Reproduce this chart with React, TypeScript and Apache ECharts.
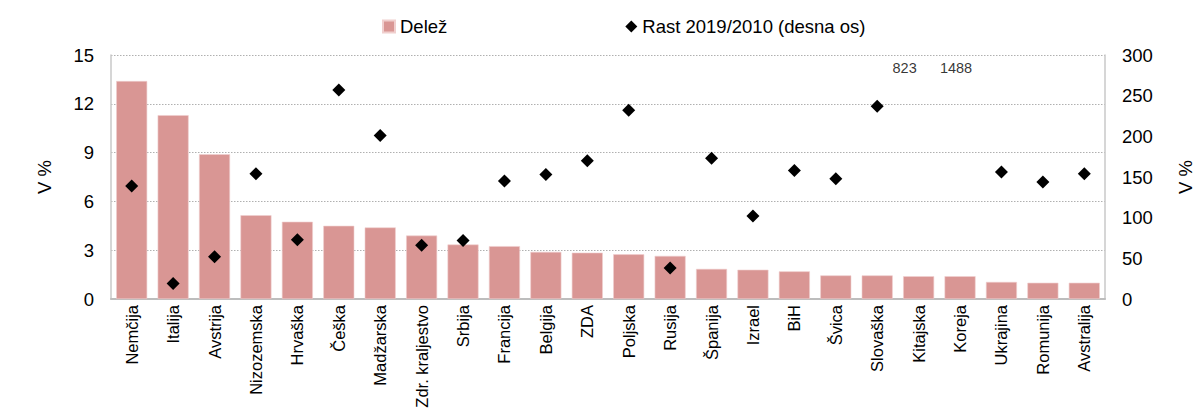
import React, { useEffect, useRef } from "react";
import * as echarts from "echarts";

const categories = [
  "Nemčija", "Italija", "Avstrija", "Nizozemska", "Hrvaška", "Češka", "Madžarska",
  "Zdr. kraljestvo", "Srbija", "Francija", "Belgija", "ZDA", "Poljska", "Rusija",
  "Španija", "Izrael", "BiH", "Švica", "Slovaška", "Kitajska", "Koreja", "Ukrajina",
  "Romunija", "Avstralija",
];
const delez = [
  13.4, 11.3, 8.9, 5.15, 4.75, 4.5, 4.4, 3.9, 3.35, 3.25, 2.9, 2.85, 2.75, 2.65,
  1.85, 1.8, 1.7, 1.45, 1.45, 1.4, 1.4, 1.05, 1.0, 1.0,
];
const rast = [
  139, 19, 52, 154, 73, 257, 201, 66, 72, 145, 153, 170, 232, 38,
  173, 102, 158, 148, 237, 823, 1488, 156, 144, 154,
];
const leftTicks = { min: 0, max: 15, interval: 3 };
const rightTicks = { min: 0, max: 300, interval: 50 };

const FONT = "'Liberation Sans', Arial, sans-serif";

export default function App() {
  const ref = useRef<HTMLDivElement>(null);
  useEffect(() => {
    if (!ref.current) return;
    const chart = echarts.init(ref.current, null, { renderer: "svg" });
    const capY = 284;
    const labelOffsets: Record<number, number> = { 19: -14, 20: -4 };
    const capData = rast.map((v, i) =>
      v > rightTicks.max
        ? {
            value: capY,
            label: {
              show: true,
              formatter: String(v),
              position: "inside",
              offset: [labelOffsets[i] || 0, 0],
            },
          }
        : null
    );
    const gridLine = { show: true, lineStyle: { color: "#B0B0B0", type: [1.5, 1.5], width: 1 } };
    chart.setOption({
      animation: false,
      textStyle: { fontFamily: FONT },
      legend: {
        left: 377,
        top: 12,
        itemWidth: 12,
        itemHeight: 12,
        itemGap: 178,
        textStyle: { fontSize: 18.5, color: "#000", fontFamily: FONT },
        data: [
          { name: "Delež", icon: "rect" },
          { name: "Rast 2019/2010 (desna os)", icon: "diamond" },
        ],
      },
      grid: { left: 111, right: 82, top: 55, bottom: 113, containLabel: false },
      xAxis: {
        type: "category",
        data: categories,
        axisLine: { show: true, lineStyle: { color: "#BDBDBD", width: 2 } },
        axisTick: { show: false },
        axisLabel: {
          rotate: 90,
          interval: 0,
          fontSize: 16.5,
          color: "#000",
          fontFamily: FONT,
          margin: 6,
        },
      },
      yAxis: [
        {
          type: "value",
          ...leftTicks,
          name: "V %",
          nameLocation: "middle",
          nameRotate: 90,
          nameGap: 57,
          nameTextStyle: { fontSize: 18.5, color: "#000", fontFamily: FONT },
          axisLine: { show: true, lineStyle: { color: "#C8C8C8", width: 1.5 } },
          axisTick: { show: false },
          splitLine: gridLine,
          axisLabel: { fontSize: 18.5, color: "#000", fontFamily: FONT, margin: 17 },
        },
        {
          type: "value",
          ...rightTicks,
          position: "right",
          name: "V %",
          nameLocation: "middle",
          nameRotate: 90,
          nameGap: 71,
          nameTextStyle: { fontSize: 18.5, color: "#000", fontFamily: FONT },
          axisLine: { show: true, lineStyle: { color: "#C8C8C8", width: 1.5 } },
          axisTick: { show: false },
          splitLine: { show: false },
          axisLabel: { fontSize: 18.5, color: "#000", fontFamily: FONT, margin: 17 },
        },
      ],
      series: [
        {
          name: "Delež",
          type: "bar",
          data: delez,
          barWidth: 31,
          itemStyle: { color: "#D99694", borderColor: "#F0CFCE", borderWidth: 0.6 },
        },
        {
          name: "Rast 2019/2010 (desna os)",
          type: "scatter",
          yAxisIndex: 1,
          data: rast,
          symbol: "diamond",
          symbolSize: 13,
          clip: true,
          itemStyle: { color: "#000000", opacity: 1 },
        },
        {
          name: "caps",
          type: "scatter",
          yAxisIndex: 1,
          data: capData,
          symbolSize: 0,
          silent: true,
          label: { color: "#000", fontSize: 14.5, fontFamily: FONT },
        },
      ],
    });
    return () => chart.dispose();
  }, []);
  return <div ref={ref} style={{ width: 1203, height: 412, position: "absolute", left: 0, top: 0 }} />;
}
